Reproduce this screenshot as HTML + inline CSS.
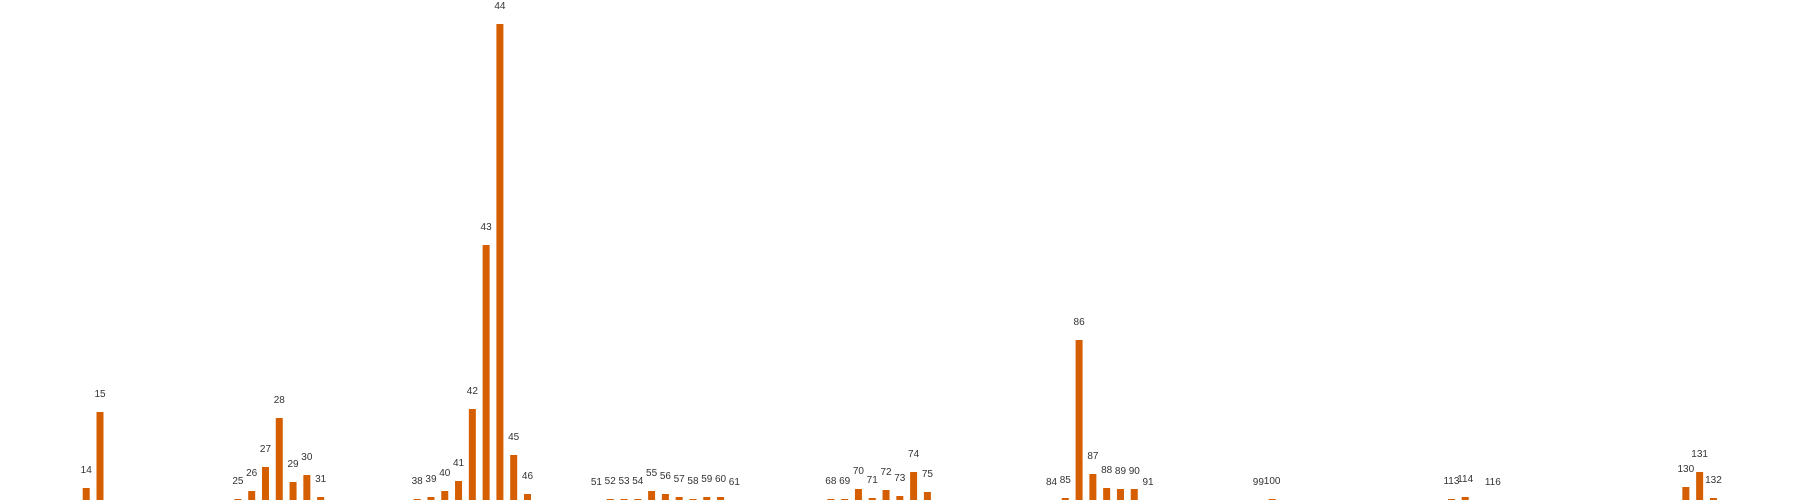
<!DOCTYPE html>
<html><head><meta charset="utf-8"><style>
html,body{margin:0;padding:0;background:#fff;}
svg{display:block;}
text{font-family:"Liberation Sans",sans-serif;font-size:10px;fill:#333;}
</style></head><body>
<svg id="chart" width="1800" height="500" viewBox="0 0 1800 500" xmlns="http://www.w3.org/2000/svg"></svg>
<script>
const categories = [14,15,25,26,27,28,29,30,31,38,39,40,41,42,43,44,45,46,51,52,53,54,55,56,57,58,59,60,61,68,69,70,71,72,73,74,75,84,85,86,87,88,89,90,91,99,100,113,114,116,130,131,132];
const values = [12,88,1,9,33,82,18,25,3,1,3,9,19,91,255,476,45,6,0,1,1,1,9,6,3,1,3,3,0,1,1,11,2,10,4,28,8,0,2,160,26,12,11,11,0,0,1,1,3,0,13,28,2];
const labels = categories.map(String);

const svg = document.getElementById('chart');
const NS = 'http://www.w3.org/2000/svg';
function xScale(i){ return 100 + (i - 15) * 13.79; }
function yScale(v){ return 500 - v; }
const barW = 7;
const g = document.createElementNS(NS,'g');


svg.appendChild(g);
categories.forEach((c,k)=>{
  const v = values[k];
  const cx = xScale(c);
  const r = document.createElementNS(NS,'rect');
  r.setAttribute('x', cx - barW/2);
  r.setAttribute('y', yScale(v));
  r.setAttribute('width', barW);
  r.setAttribute('height', 500 - yScale(v));
  r.setAttribute('fill', '#d55e00');
  
  
  g.appendChild(r);
  const t = document.createElementNS(NS,'text');
  t.setAttribute('x', cx);
  t.setAttribute('y', yScale(v) - 15);
  t.setAttribute('text-anchor', 'middle');
  t.textContent = labels[k];
  
  
  g.appendChild(t);
});
</script>
</body></html>
